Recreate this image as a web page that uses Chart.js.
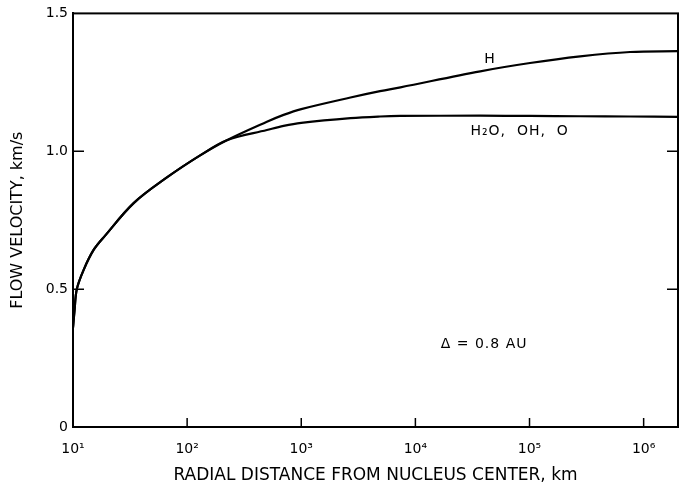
<!DOCTYPE html>
<html>
<head>
<meta charset="utf-8">
<script src="https://cdn.jsdelivr.net/npm/chart.js@4.4.1/dist/chart.umd.min.js"></script>
<style>
  html, body { margin: 0; padding: 0; background: #fff; }
  #wrap { width: 692px; height: 487px; }
</style>
</head>
<body>
<div id="wrap"><canvas id="flowChart"></canvas></div>
<script>
// radial distance (km) and flow velocity (km/s)
const distKm = [10, 10.3, 10.8, 12.4, 15.2, 19.2, 34, 66.5, 130, 223, 500, 700, 1000, 2700, 4900, 7400, 37000, 101000, 278000, 760000, 2000000];
const velH   = [0.36, 0.42, 0.50, 0.57, 0.643, 0.695, 0.812, 0.905, 0.985, 1.04, 1.107, 1.132, 1.153, 1.195, 1.218, 1.232, 1.29, 1.32, 1.344, 1.360, 1.363];
const velH2O = [0.36, 0.42, 0.50, 0.57, 0.643, 0.695, 0.812, 0.905, 0.985, 1.04, 1.077, 1.092, 1.103, 1.12, 1.126, 1.128, 1.129, 1.128, 1.127, 1.126, 1.125];

const xTickValues = [10, 100, 1000, 10000, 100000, 1000000];
const xTickLabels = ['10¹', '10²', '10³', '10⁴', '10⁵', '10⁶'];
const yTickValues = [0, 0.5, 1.0, 1.5];
const yTickLabels = ['0', '0.5', '1.0', '1.5'];

const FONT = 'DejaVu Sans';

const toPoints = vals => distKm.map((d, i) => ({ x: d, y: vals[i] }));

// ticks point into the plot, and the box is closed on top/right
const frameTicks = {
  id: 'frameTicks',
  afterDraw(chart) {
    const { ctx, chartArea: a, scales } = chart;
    ctx.save();
    ctx.strokeStyle = '#000';
    ctx.lineWidth = 2;
    ctx.strokeRect(a.left, a.top, a.right - a.left, a.bottom - a.top);
    ctx.lineWidth = 1.5;
    xTickValues.forEach(v => {
      const px = scales.x.getPixelForValue(v);
      if (px <= a.left + 2 || px >= a.right - 2) return;
      ctx.beginPath();
      ctx.moveTo(px, a.bottom);
      ctx.lineTo(px, a.bottom - 9);
      ctx.stroke();
    });
    [0.5, 1.0].forEach(v => {
      const py = scales.y.getPixelForValue(v);
      ctx.beginPath();
      ctx.moveTo(a.left, py);
      ctx.lineTo(a.left + 11, py);
      ctx.moveTo(a.right, py);
      ctx.lineTo(a.right - 11, py);
      ctx.stroke();
    });
    // curve labels
    ctx.fillStyle = '#000';
    ctx.font = '14px ' + FONT;
    ctx.letterSpacing = '1px';
    ctx.textAlign = 'center';
    ctx.textBaseline = 'middle';
    ctx.fillText('H', scales.x.getPixelForValue(45000), scales.y.getPixelForValue(1.335));
    ctx.fillText('H₂O,  OH,  O', scales.x.getPixelForValue(82000), scales.y.getPixelForValue(1.072));
    ctx.fillText('Δ = 0.8 AU', scales.x.getPixelForValue(40000), scales.y.getPixelForValue(0.3));
    ctx.restore();
  }
};

new Chart(document.getElementById('flowChart'), {
  type: 'line',
  data: {
    datasets: [{
      label: 'H',
      data: toPoints(velH),
      borderColor: '#000',
      borderWidth: 2.2,
      pointRadius: 0,
      tension: 0.35,
      fill: false
    }, {
      label: 'H2O, OH, O',
      data: toPoints(velH2O),
      borderColor: '#000',
      borderWidth: 2.2,
      pointRadius: 0,
      tension: 0.35,
      fill: false
    }]
  },
  plugins: [frameTicks],
  options: {
    responsive: true,
    maintainAspectRatio: false,
    animation: false,
    layout: { padding: { top: 12, right: 14, left: 0, bottom: 0 } },
    plugins: {
      legend: { display: false },
      tooltip: { enabled: false }
    },
    scales: {
      x: {
        type: 'logarithmic',
        min: 10,
        max: 2000000,
        afterBuildTicks: scale => { scale.ticks = xTickValues.map(v => ({ value: v })); },
        afterFit: scale => { scale.height = 60; },
        grid: { display: false, drawTicks: false },
        border: { display: true, color: '#000', width: 2 },
        ticks: {
          color: '#000',
          font: { family: FONT, size: 14 },
          padding: 14,
          maxRotation: 0,
          autoSkip: false,
          callback: (v, i) => xTickLabels[i]
        },
        title: {
          display: true,
          text: 'RADIAL DISTANCE FROM NUCLEUS CENTER, km',
          color: '#000',
          font: { family: FONT, size: 17 },
          padding: { top: 4, bottom: 1 }
        }
      },
      y: {
        min: 0,
        max: 1.5,
        afterBuildTicks: scale => { scale.ticks = yTickValues.map(v => ({ value: v })); },
        afterFit: scale => { scale.width = 73; },
        grid: { display: false, drawTicks: false },
        border: { display: true, color: '#000', width: 2 },
        ticks: {
          color: '#000',
          font: { family: FONT, size: 14 },
          padding: 5,
          callback: (v, i) => yTickLabels[i]
        },
        title: {
          display: true,
          text: 'FLOW VELOCITY, km/s',
          color: '#000',
          font: { family: FONT, size: 16 },
          padding: { top: 8, bottom: 0 }
        }
      }
    }
  }
});
</script>
</body>
</html>
